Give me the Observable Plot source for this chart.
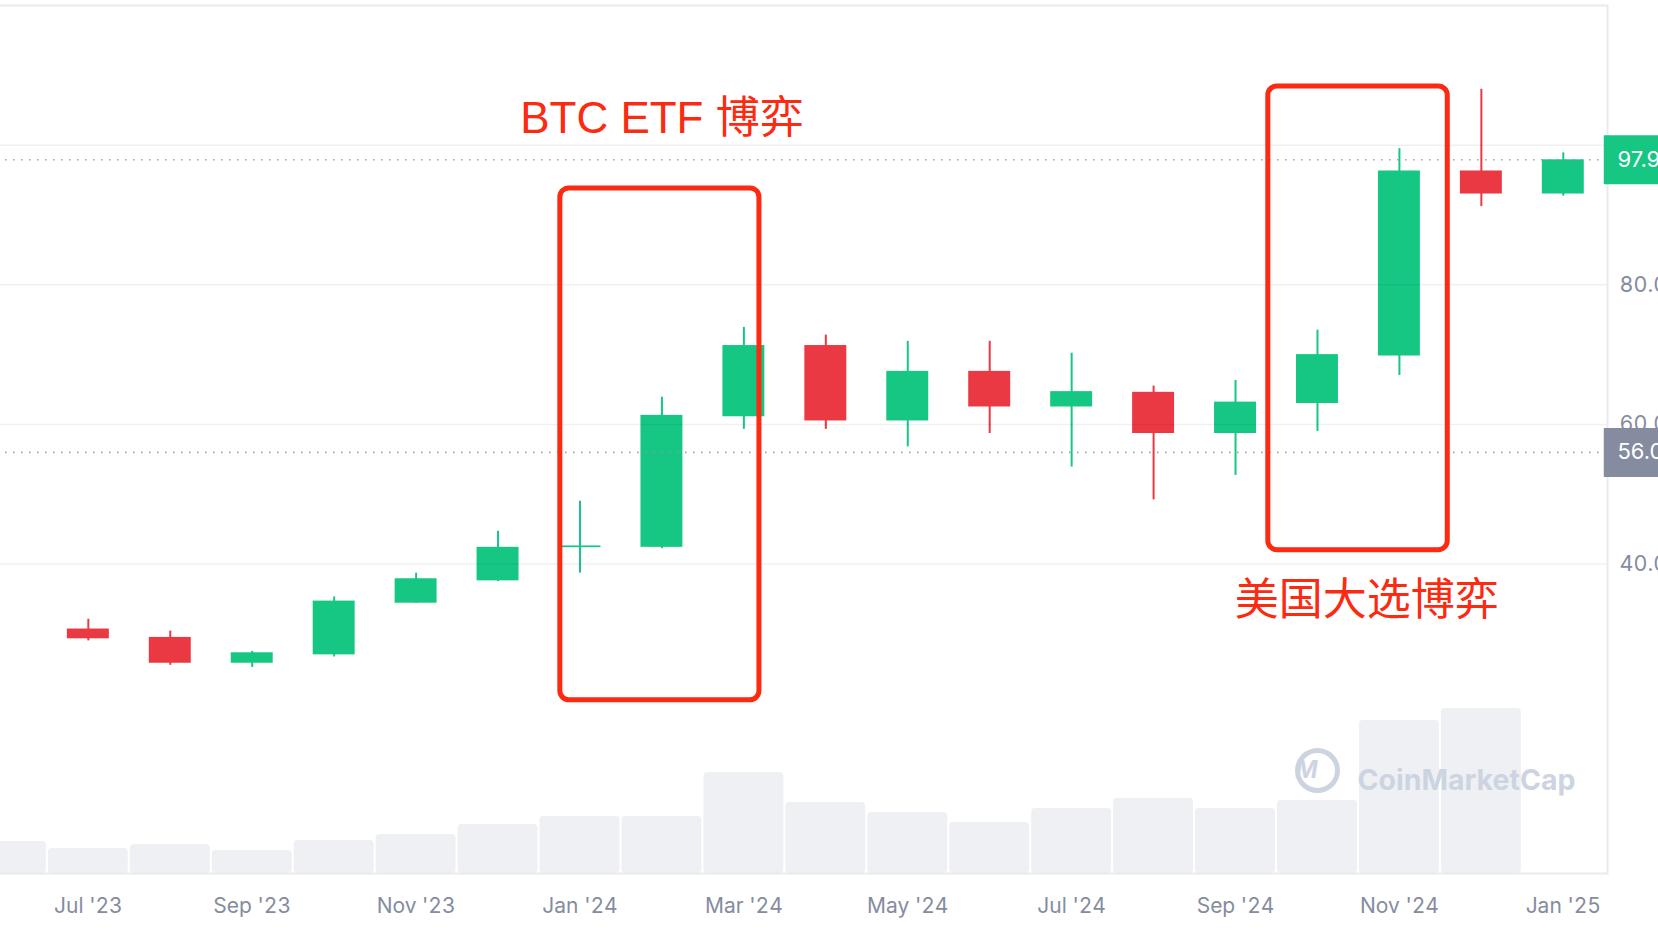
<!DOCTYPE html>
<html><head><meta charset="utf-8">
<script src="https://cdn.jsdelivr.net/npm/d3@7"></script>
<script src="https://cdn.jsdelivr.net/npm/@observablehq/plot@0.6"></script>
<style>
html,body{margin:0;padding:0;background:#fff;overflow:hidden;}
#wrap{position:relative;width:1658px;height:934px;}
#wrap svg{position:absolute;left:0;top:0;}
</style></head><body><div id="wrap"></div>
<script>
// Months on the x axis (index 0 = Jun '23)
const months = ["Jun '23","Jul '23","Aug '23","Sep '23","Oct '23","Nov '23","Dec '23",
  "Jan '24","Feb '24","Mar '24","Apr '24","May '24","Jun '24","Jul '24","Aug '24",
  "Sep '24","Oct '24","Nov '24","Dec '24","Jan '25"];
const tickLabels = ["Jul '23","Sep '23","Nov '23","Jan '24","Mar '24","May '24","Jul '24","Sep '24","Nov '24","Jan '25"];

// Monthly BTC candles (thousand USD), Jul '23 .. Jan '25
const candleMonths = months.slice(1);
const open  = [30.7, 29.5, 25.8, 27.0, 34.4, 37.6, 42.35, 42.4, 61.1, 71.3, 60.5, 67.6, 62.5, 64.6, 58.7, 63.0, 69.8, 96.3, 93.0];
const high  = [32.1, 30.4, 27.5, 35.3, 38.7, 44.7, 49.0, 63.9, 73.9, 72.8, 71.9, 71.9, 70.2, 65.5, 66.3, 73.5, 99.5, 108.0, 98.9];
const low   = [29.0, 25.5, 25.2, 26.7, 34.4, 37.5, 38.7, 42.2, 59.3, 59.3, 56.8, 58.7, 53.9, 49.2, 52.7, 59.0, 67.0, 91.2, 92.7];
const close = [29.3, 25.8, 27.3, 34.7, 37.9, 42.4, 42.6, 61.3, 71.3, 60.5, 67.6, 62.5, 64.7, 58.7, 63.2, 70.0, 96.3, 93.0, 97.9];

// Monthly volume (billion USD), Jun '23 .. Dec '24
const volumeMonths = months.slice(0, 19);
const volume = [388, 303, 352, 279, 400, 473, 594, 691, 691, 1224, 861, 739, 618, 788, 909, 788, 885, 1855, 2000];

// Y axis: gridlines and labelled ticks
const gridTicks = [40, 60, 80, 100];
const labelTicks = [40, 60, 80];

// Price tags
const tagValues = [97.9, 56.0];
const tagKinds = ["last", "ref"];

// Annotations (month positions and price levels)
const noteText = ["BTC ETF 博弈", "美国大选博弈"];
const noteBoxX1 = [6.76, 15.40];
const noteBoxX2 = [9.19, 17.59];
const noteBoxTop = [93.8, 108.4];
const noteBoxBottom = [20.5, 42.0];
const noteLabelX = [8, 16.6];
const noteLabelY = [103.7, 34.8];

const GREEN = "#16c784", RED = "#ea3943", GRAY = "#858ca0", NOTE = "#fb2a10", MARK = "#cdd4e1";
const W = 1658, H = 934;
const bodyHalf = 0.256;

const candles = candleMonths.map((m, k) => ({
  i: months.indexOf(m), open: open[k], high: high[k], low: low[k], close: close[k],
  up: close[k] >= open[k]
}));
const vols = volumeMonths.map((m, k) => ({i: months.indexOf(m), v: volume[k]}));
const notes = noteText.map((t, k) => ({t, x1: noteBoxX1[k], x2: noteBoxX2[k], y1: noteBoxBottom[k], y2: noteBoxTop[k], lx: noteLabelX[k], ly: noteLabelY[k]}));
const tags = tagValues.map((v, k) => ({v, kind: tagKinds[k], label: v.toFixed(1) + "K"}));
const lastIdx = months.length - 1;

const xScale = {type: "linear", domain: [0, 19], range: [5.9, 1562.8]};
const margins = {marginTop: 5, marginRight: 51, marginBottom: 61, marginLeft: -3};

// Volume layer (with watermark)
const volPlot = Plot.plot({
  width: W, height: H, ...margins,
  style: {fontFamily: "Inter, sans-serif", background: "white"},
  x: {...xScale, axis: null},
  y: {domain: [0, 2000], range: [873, 708], axis: null},
  marks: [
    Plot.rect(vols, {x1: d => d.i - 0.5, x2: d => d.i + 0.5, y1: 0, y2: "v", insetLeft: 1, insetRight: 1, fill: "#eff0f4", rx: 4}),
    Plot.dot([0], {frameAnchor: "bottom-right", dx: -290, dy: -103, r: 20, stroke: MARK, strokeWidth: 5, fill: "none"}),
    Plot.text(["M"], {frameAnchor: "bottom-right", dx: -290, dy: -103, text: d => d, fontSize: 24, fontWeight: 700, fontStyle: "italic", fill: MARK, lineAnchor: "middle"}),
    Plot.text(["CoinMarketCap"], {frameAnchor: "bottom-right", dx: -32, dy: -93, text: d => d, textAnchor: "end", lineAnchor: "middle", fontSize: 28.5, fontWeight: 700, fill: MARK})
  ]
});

// Price layer
const mainPlot = Plot.plot({
  width: W, height: H, ...margins,
  style: {fontFamily: "Inter, sans-serif", background: "transparent"},
  x: xScale,
  y: {domain: [40, 120], range: [563.6, 5]},
  marks: [
    Plot.ruleX(candles, {x: "i", y1: "low", y2: "high", stroke: d => d.up ? GREEN : RED, strokeWidth: 2}),
    Plot.rect(candles, {x1: d => d.i - bodyHalf, x2: d => d.i + bodyHalf, y1: "open", y2: "close", fill: d => d.up ? GREEN : RED}),
    Plot.gridY(gridTicks, {stroke: "#000", strokeOpacity: 0.06, strokeWidth: 1.5}),
    Plot.ruleY(tags, {y: "v", stroke: "#8f96a5", strokeOpacity: 0.85, strokeWidth: 1.6, strokeDasharray: "1.6,6.4"}),
    Plot.frame({stroke: "#e9eaee", strokeWidth: 2}),
    Plot.axisY({anchor: "right", ticks: labelTicks, tickFormat: d => d.toFixed(1) + "K", tickSize: 0, tickPadding: 12, fontSize: 21.5, color: GRAY}),
    Plot.axisX({anchor: "bottom", ticks: tickLabels.map(t => months.indexOf(t)), tickFormat: i => months[i], tickSize: 0, tickPadding: 25, fontSize: 21, color: GRAY}),
    Plot.rect(notes, {x1: "x1", x2: "x2", y1: "y1", y2: "y2", fill: "none", stroke: NOTE, strokeWidth: 5, rx: 9}),
    Plot.text(notes, {x: "lx", y: "ly", text: "t", fill: NOTE, fontSize: 44, lineAnchor: "middle", fontFamily: "'Liberation Sans', 'Noto Sans CJK SC', sans-serif"}),
    Plot.ruleY(tags, {y: "v", x1: () => lastIdx + 0.5, x2: () => lastIdx + 1.6, stroke: d => d.kind === "last" ? GREEN : GRAY, strokeWidth: 49}),
    Plot.text(tags, {y: "v", text: "label", frameAnchor: "right", textAnchor: "start", dx: 10, fill: "white", fontSize: 22, lineAnchor: "middle"})
  ]
});

const wrap = document.getElementById("wrap");
wrap.appendChild(volPlot);
wrap.appendChild(mainPlot);
</script>
</body></html>
